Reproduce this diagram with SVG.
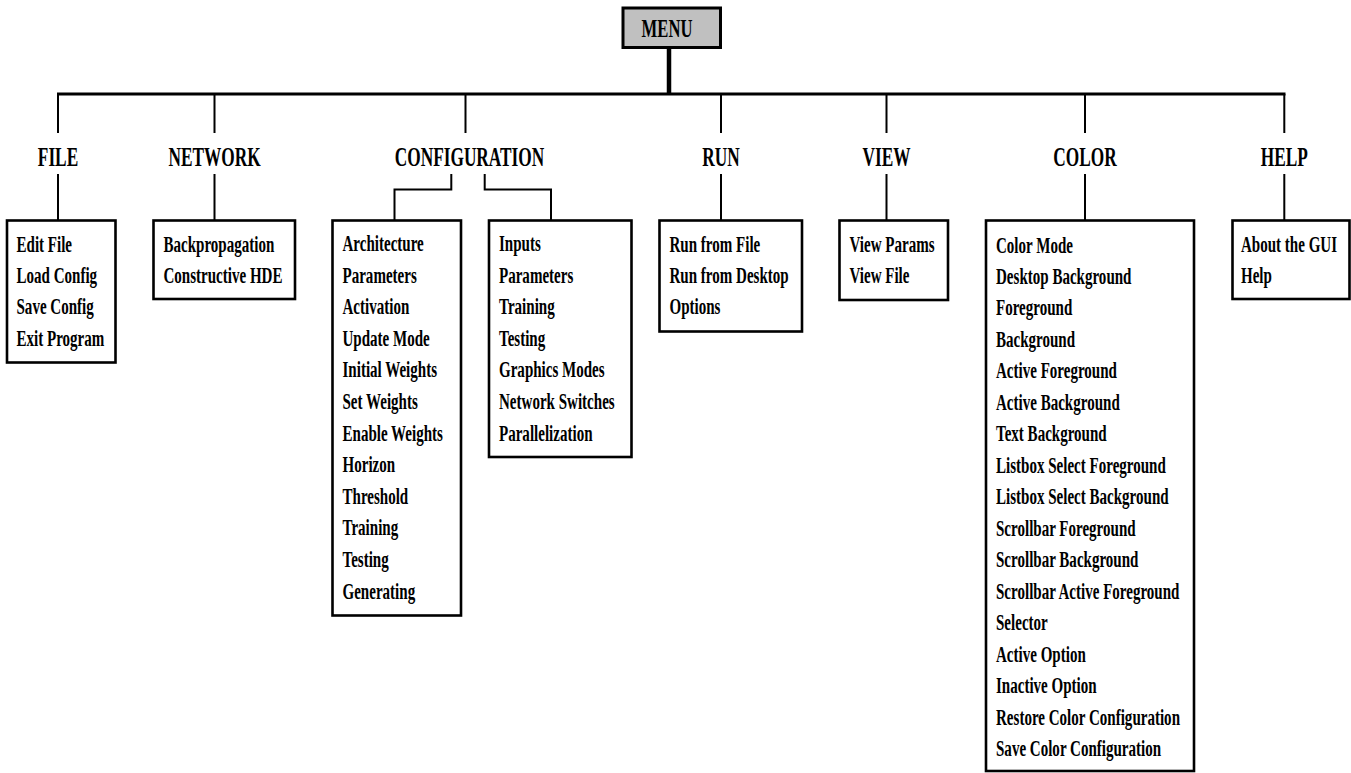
<svg xmlns="http://www.w3.org/2000/svg" width="1351" height="773" viewBox="0 0 1351 773">
<style>
  text { font-family: "Liberation Serif", "Times New Roman", serif; font-weight: bold; fill: #000; }
  .lbl { font-size: 27px; text-anchor: middle; }
  .itm { font-size: 23.5px; }
  .box { fill: #fff; stroke: #000; stroke-width: 2.6; }
  .ln { fill: none; stroke: #000; stroke-width: 2; }
</style>
<rect width="1351" height="773" fill="#fff"/>
<g id="connectors">
  <line x1="669" y1="47" x2="669" y2="94" stroke="#000" stroke-width="4.5"/>
  <line x1="57" y1="94" x2="1285.5" y2="94" stroke="#000" stroke-width="3.2"/>
  <path class="ln" d="M58 94V133M214.5 94V133M465.5 94V133M721 94V133M886.5 94V133M1085 94V133M1284.3 94V133"/>
  <path class="ln" d="M58 174V220M214.5 174V220M721 174V220M886.5 174V220M1085 174V220M1284.3 174V220"/>
  <path class="ln" d="M451.3 174V189.5H394.5V220M484.7 174V189.5H551V220"/>
</g>
<g id="menu">
  <rect x="623" y="8" width="97.5" height="39.5" fill="#c0c0c0" stroke="#000" stroke-width="3"/>
  <text class="lbl" font-size="26" transform="translate(667,36.5) scale(0.64,1)" style="font-size:26px">MENU</text>
</g>
<g id="file">
  <text class="lbl" transform="translate(58,166) scale(0.64,1)">FILE</text>
  <rect class="box" x="7" y="220.5" width="108.5" height="142"/>
  <text class="itm" transform="translate(16.5,251.5) scale(0.64,1)"><tspan x="0" y="0">Edit File</tspan><tspan x="0" dy="31.5">Load Config</tspan><tspan x="0" dy="31.5">Save Config</tspan><tspan x="0" dy="31.5">Exit Program</tspan></text>
</g>
<g id="network">
  <text class="lbl" transform="translate(214.5,166) scale(0.64,1)">NETWORK</text>
  <rect class="box" x="153.5" y="220.5" width="141.5" height="78.5"/>
  <text class="itm" transform="translate(163.5,251.5) scale(0.64,1)"><tspan x="0" y="0">Backpropagation</tspan><tspan x="0" dy="31.5">Constructive HDE</tspan></text>
</g>
<g id="configuration">
  <text class="lbl" transform="translate(469.5,166) scale(0.64,1)">CONFIGURATION</text>
</g>
<g id="config-left">
  <rect class="box" x="332.5" y="220.5" width="128.5" height="395"/>
  <text class="itm" transform="translate(342.5,251) scale(0.64,1)"><tspan x="0" y="0">Architecture</tspan><tspan x="0" dy="31.6">Parameters</tspan><tspan x="0" dy="31.6">Activation</tspan><tspan x="0" dy="31.6">Update Mode</tspan><tspan x="0" dy="31.6">Initial Weights</tspan><tspan x="0" dy="31.6">Set Weights</tspan><tspan x="0" dy="31.6">Enable Weights</tspan><tspan x="0" dy="31.6">Horizon</tspan><tspan x="0" dy="31.6">Threshold</tspan><tspan x="0" dy="31.6">Training</tspan><tspan x="0" dy="31.6">Testing</tspan><tspan x="0" dy="31.6">Generating</tspan></text>
</g>
<g id="config-right">
  <rect class="box" x="489" y="220.5" width="142.5" height="236.5"/>
  <text class="itm" transform="translate(499,251) scale(0.64,1)"><tspan x="0" y="0">Inputs</tspan><tspan x="0" dy="31.6">Parameters</tspan><tspan x="0" dy="31.6">Training</tspan><tspan x="0" dy="31.6">Testing</tspan><tspan x="0" dy="31.6">Graphics Modes</tspan><tspan x="0" dy="31.6">Network Switches</tspan><tspan x="0" dy="31.6">Parallelization</tspan></text>
</g>
<g id="run">
  <text class="lbl" transform="translate(721,166) scale(0.64,1)">RUN</text>
  <rect class="box" x="659.5" y="220.5" width="142.5" height="111"/>
  <text class="itm" transform="translate(669.5,251.5) scale(0.64,1)"><tspan x="0" y="0">Run from File</tspan><tspan x="0" dy="31.5">Run from Desktop</tspan><tspan x="0" dy="31.5">Options</tspan></text>
</g>
<g id="view">
  <text class="lbl" transform="translate(886.5,166) scale(0.64,1)">VIEW</text>
  <rect class="box" x="839.5" y="220.5" width="108.5" height="79.5"/>
  <text class="itm" transform="translate(849.5,251.5) scale(0.64,1)"><tspan x="0" y="0">View Params</tspan><tspan x="0" dy="31.5">View File</tspan></text>
</g>
<g id="color">
  <text class="lbl" transform="translate(1085,166) scale(0.64,1)">COLOR</text>
  <rect class="box" x="986" y="220.5" width="208" height="550.5"/>
  <text class="itm" transform="translate(996,252.5) scale(0.64,1)"><tspan x="0" y="0">Color Mode</tspan><tspan x="0" dy="31.5">Desktop Background</tspan><tspan x="0" dy="31.5">Foreground</tspan><tspan x="0" dy="31.5">Background</tspan><tspan x="0" dy="31.5">Active Foreground</tspan><tspan x="0" dy="31.5">Active Background</tspan><tspan x="0" dy="31.5">Text Background</tspan><tspan x="0" dy="31.5">Listbox Select Foreground</tspan><tspan x="0" dy="31.5">Listbox Select Background</tspan><tspan x="0" dy="31.5">Scrollbar Foreground</tspan><tspan x="0" dy="31.5">Scrollbar Background</tspan><tspan x="0" dy="31.5">Scrollbar Active Foreground</tspan><tspan x="0" dy="31.5">Selector</tspan><tspan x="0" dy="31.5">Active Option</tspan><tspan x="0" dy="31.5">Inactive Option</tspan><tspan x="0" dy="31.5">Restore Color Configuration</tspan><tspan x="0" dy="31.5">Save Color Configuration</tspan></text>
</g>
<g id="help">
  <text class="lbl" transform="translate(1284.3,166) scale(0.64,1)">HELP</text>
  <rect class="box" x="1232.5" y="220.5" width="117" height="78.5"/>
  <text class="itm" transform="translate(1241,251.5) scale(0.64,1)"><tspan x="0" y="0">About the GUI</tspan><tspan x="0" dy="31.5">Help</tspan></text>
</g>
</svg>
